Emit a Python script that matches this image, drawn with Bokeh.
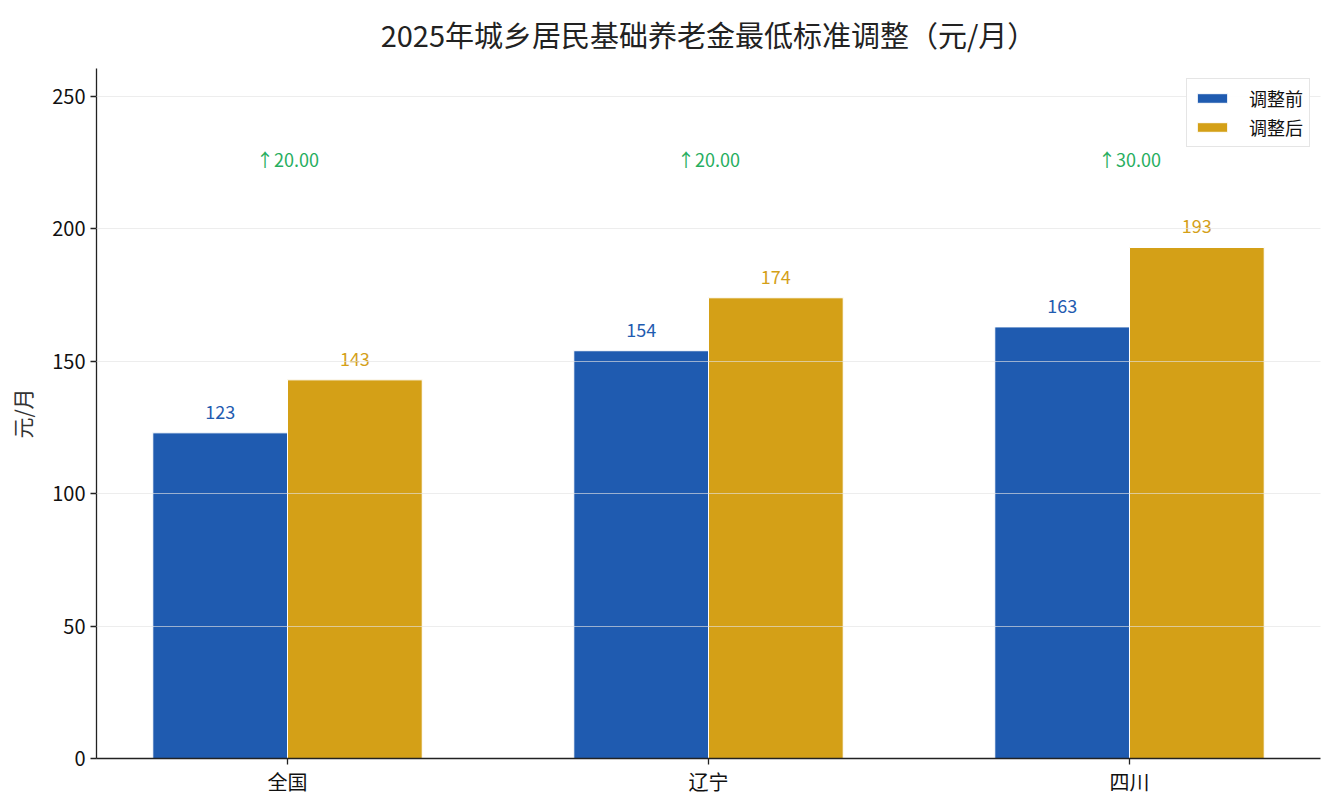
from bokeh.plotting import figure
from bokeh.models import ColumnDataSource, FixedTicker, Legend, LegendItem, Range1d
from bokeh.embed import file_html
from bokeh.resources import INLINE

FONT = "Noto Sans CJK SC"

categories = ["全国", "辽宁", "四川"]
before = [123, 154, 163]
after = [143, 174, 193]
series_names = ["调整前", "调整后"]

BLUE = "#1f5bb0"
GOLD = "#d4a017"
GREEN = "#27ae60"
BAR_W = 0.32

xs = list(range(len(categories)))
diff = [a - b for a, b in zip(after, before)]
arrow_y = max(after) * 1.174

src = ColumnDataSource(dict(
    x_before=[x - BAR_W / 2 for x in xs],
    x_after=[x + BAR_W / 2 for x in xs],
    x=xs,
    before=before,
    after=after,
    before_lbl=[str(v) for v in before],
    after_lbl=[str(v) for v in after],
    diff_lbl=["↑%.2f" % d for d in diff],
    arrow_y=[arrow_y] * len(xs),
))

# === Figure === #
p = figure(width=1325, height=802, output_backend="svg", toolbar_location=None,
           x_range=Range1d(-0.4537, 2.4537), y_range=Range1d(0, 260.6),
           min_border_left=96, min_border_right=5, min_border_top=68, min_border_bottom=44)

p.title.text = "2025年城乡居民基础养老金最低标准调整（元/月）"
p.title.align = "center"
p.title.vertical_align = "top"
p.title.text_font = FONT
p.title.text_font_size = "29px"
p.title.text_font_style = "normal"
p.title.text_color = "#222222"
p.title.offset = 0
p.title.standoff = 24

p.outline_line_color = None
p.background_fill_color = "white"

# Bars
r_before = p.vbar(x="x_before", top="before", width=BAR_W, source=src,
                  fill_color=BLUE, line_color="white", line_width=1)
r_after = p.vbar(x="x_after", top="after", width=BAR_W, source=src,
                 fill_color=GOLD, line_color="white", line_width=1)

# Labels
p.text(x="x_before", y="before", text="before_lbl", source=src, text_align="center",
       text_baseline="bottom", y_offset=-14, text_color=BLUE, text_font_size="18px",
       text_font={"value": FONT})
p.text(x="x_after", y="after", text="after_lbl", source=src, text_align="center",
       text_baseline="bottom", y_offset=-14, text_color=GOLD, text_font_size="18px",
       text_font={"value": FONT})
p.text(x="x", y="arrow_y", text="diff_lbl", source=src, text_align="center",
       text_baseline="middle", text_color=GREEN, text_font_size="18px",
       text_font={"value": FONT})

# === Axes / Grid === #
p.xaxis.ticker = FixedTicker(ticks=xs)
p.xaxis.major_label_overrides = {i: c for i, c in enumerate(categories)}
p.yaxis.ticker = FixedTicker(ticks=[0, 50, 100, 150, 200, 250])
for ax in (p.xaxis, p.yaxis):
    ax.axis_line_color = "#222222"
    ax.axis_line_width = 1.3
    ax.major_tick_line_color = "#222222"
    ax.major_tick_line_width = 1.3
    ax.major_tick_out = 6
    ax.major_tick_in = 0
    ax.minor_tick_line_color = None
    ax.major_label_text_font = FONT
    ax.major_label_text_font_size = "20px"
    ax.major_label_text_color = "#111111"
p.xaxis.major_label_standoff = 2
p.yaxis.axis_label = "元/月"
p.yaxis.axis_label_text_font = FONT
p.yaxis.axis_label_text_font_size = "21px"
p.yaxis.axis_label_text_font_style = "normal"
p.yaxis.axis_label_text_color = "#333333"
p.yaxis.axis_label_standoff = 12

p.xgrid.grid_line_color = None
p.ygrid.grid_line_color = "#e3e3e3"
p.ygrid.grid_line_alpha = 0.8
p.ygrid.grid_line_width = 0.8
p.ygrid.level = "overlay"

# === Legend === #
legend = Legend(items=[LegendItem(label=series_names[0], renderers=[r_before]),
                       LegendItem(label=series_names[1], renderers=[r_after])],
                location="top_right")
legend.label_text_font = FONT
legend.label_text_font_size = "18px"
legend.label_text_color = "#111111"
legend.glyph_width = 38
legend.glyph_height = 12
legend.label_height = 20
legend.spacing = 3
legend.padding = 6
legend.margin = 10
legend.label_standoff = 18
legend.border_line_color = "#cccccc"
legend.border_line_width = 1.5
p.add_layout(legend)

open("out.html", "w").write(file_html(p, INLINE))
